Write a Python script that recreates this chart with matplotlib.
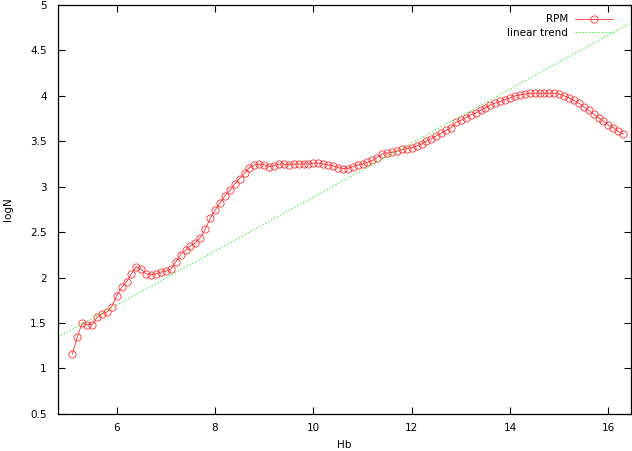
import matplotlib
matplotlib.use("Agg")
import matplotlib.pyplot as plt

# RPM curve (Hb vs logN)
hb = [5.1, 5.2, 5.3, 5.4, 5.5, 5.6, 5.7, 5.8, 5.9, 6.0,
      6.1, 6.2, 6.3, 6.4, 6.5, 6.6, 6.7, 6.8, 6.9, 7.0,
      7.1, 7.2, 7.3, 7.4, 7.5, 7.6, 7.7, 7.8, 7.9, 8.0,
      8.1, 8.2, 8.3, 8.4, 8.5, 8.6, 8.7, 8.8, 8.9, 9.0,
      9.1, 9.2, 9.3, 9.4, 9.5, 9.6, 9.7, 9.8, 9.9, 10.0,
      10.1, 10.2, 10.3, 10.4, 10.5, 10.6, 10.7, 10.8, 10.9, 11.0,
      11.1, 11.2, 11.3, 11.4, 11.5, 11.6, 11.7, 11.8, 11.9, 12.0,
      12.1, 12.2, 12.3, 12.4, 12.5, 12.6, 12.7, 12.8, 12.9, 13.0,
      13.1, 13.2, 13.3, 13.4, 13.5, 13.6, 13.7, 13.8, 13.9, 14.0,
      14.1, 14.2, 14.3, 14.4, 14.5, 14.6, 14.7, 14.8, 14.9, 15.0,
      15.1, 15.2, 15.3, 15.4, 15.5, 15.6, 15.7, 15.8, 15.9, 16.0,
      16.1, 16.2, 16.3]
log_n = [1.16, 1.35, 1.50, 1.48, 1.48, 1.56, 1.60, 1.62, 1.68, 1.80,
         1.89, 1.95, 2.04, 2.12, 2.09, 2.04, 2.03, 2.04, 2.06, 2.07,
         2.09, 2.17, 2.25, 2.30, 2.35, 2.38, 2.44, 2.53, 2.65, 2.74,
         2.82, 2.90, 2.96, 3.03, 3.09, 3.15, 3.21, 3.24, 3.25, 3.24,
         3.22, 3.23, 3.25, 3.25, 3.24, 3.25, 3.25, 3.25, 3.25, 3.26,
         3.26, 3.25, 3.24, 3.23, 3.21, 3.20, 3.20, 3.22, 3.24, 3.25,
         3.27, 3.29, 3.32, 3.36, 3.37, 3.38, 3.39, 3.41, 3.42, 3.43,
         3.45, 3.47, 3.50, 3.53, 3.56, 3.59, 3.62, 3.65, 3.71, 3.73,
         3.76, 3.79, 3.81, 3.84, 3.87, 3.90, 3.92, 3.94, 3.96, 3.98,
         4.00, 4.01, 4.02, 4.03, 4.03, 4.03, 4.03, 4.03, 4.03, 4.02,
         4.00, 3.98, 3.95, 3.92, 3.88, 3.84, 3.80, 3.76, 3.72, 3.68,
         3.65, 3.61, 3.58]

# linear trend, end points across the x range
trend_x = [4.8, 16.47]
trend_y = [1.34, 4.81]

x_ticks = [6, 8, 10, 12, 14, 16]
y_ticks = [0.5, 1, 1.5, 2, 2.5, 3, 3.5, 4, 4.5, 5]

plt.rcParams["font.family"] = ["DejaVu Sans"]
plt.rcParams["font.size"] = 7.5

fig = plt.figure(figsize=(6.32, 4.51), dpi=100)
ax = fig.add_axes([0.0913, 0.0827, 0.9079, 0.906])

ax.plot(hb, log_n, color="#ff3030", lw=0.6, marker="o", ms=5.2,
        mfc="none", mec="#ff3030", mew=0.6, label="RPM")
ax.plot(trend_x, trend_y, color="#33ee33", lw=0.6, dashes=(2, 2),
        label="linear trend")

ax.set_xlim(4.8, 16.47)
ax.set_ylim(0.5, 5)
ax.set_xticks(x_ticks)
ax.set_yticks(y_ticks)
ax.set_yticklabels(["0.5", "1", "1.5", "2", "2.5", "3", "3.5", "4", "4.5", "5"])

ax.tick_params(direction="in", length=5, width=0.8, top=True, right=True)
ax.tick_params(axis="x", pad=7)
ax.tick_params(axis="y", pad=8)
for sp in ax.spines.values():
    sp.set_linewidth(0.9)

ax.set_xlabel("Hb", labelpad=5)
ax.set_ylabel("logN", labelpad=12)

ax.legend(loc="upper right", frameon=False, markerfirst=False,
          handlelength=3.6, handletextpad=0.7, labelspacing=0.35,
          borderaxespad=0.0, bbox_to_anchor=(0.975, 0.988))

fig.savefig("out.png", dpi=100)
